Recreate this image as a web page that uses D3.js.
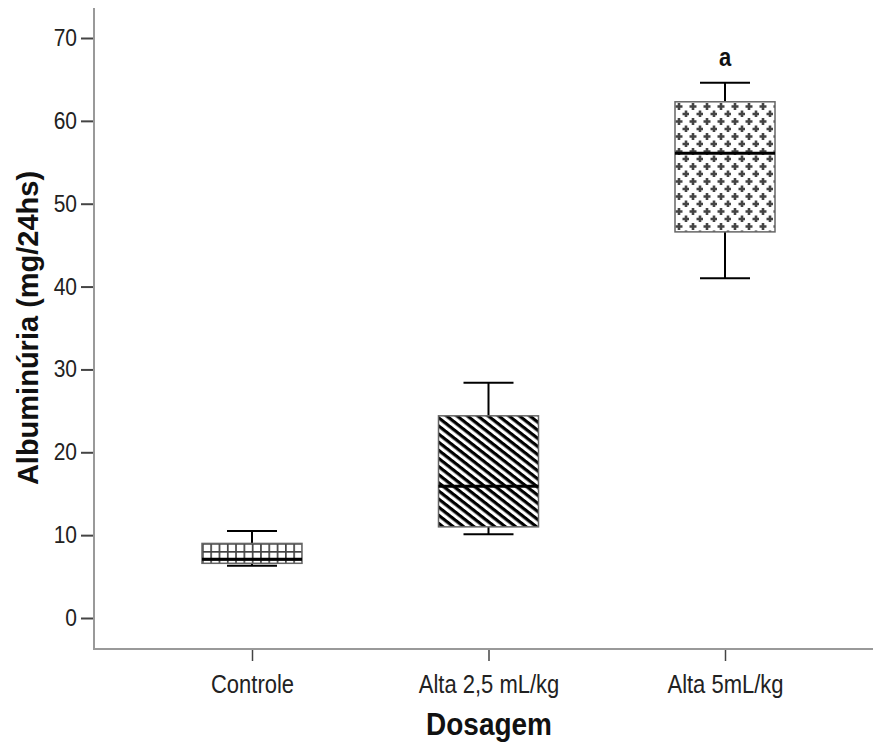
<!DOCTYPE html>
<html>
<head>
<meta charset="utf-8">
<title>Albuminúria</title>
<script src="https://d3js.org/d3.v7.min.js"></script>
<style>
  body { margin: 0; background: #fff; }
  svg { font-family: "Liberation Sans", Arial, sans-serif; }
  .tick text { fill: #222; }
</style>
</head>
<body>
<svg width="873" height="744"></svg>
<script>
const categories = ["Controle", "Alta 2,5 mL/kg", "Alta 5mL/kg"];
const minV = [6.3, 10.1, 41.0];
const q1 = [6.6, 11.0, 46.6];
const median = [7.1, 15.9, 56.1];
const q3 = [9.0, 24.4, 62.3];
const maxV = [10.5, 28.4, 64.6];
const letters = ["", "", "a"];
const patterns = ["grid", "diag", "plus"];
const yTicks = [0, 10, 20, 30, 40, 50, 60, 70];

const svg = d3.select("svg");
const x = d3.scalePoint().domain(categories).range([252, 725]);
const y = d3.scaleLinear().domain([0, 70]).range([618, 38]);
const axisX = 94, axisY = 649;
const boxW = 100, capW = 50;
const stretch = 1.15; // glyphs in the original are a bit taller than Arial

// fill patterns
const defs = svg.append("defs");
const grid = defs.append("pattern").attr("id", "grid").attr("patternUnits", "userSpaceOnUse")
  .attr("width", 8.3).attr("height", 8).attr("x", 202).attr("y", 543);
grid.append("rect").attr("width", 8.3).attr("height", 8).attr("fill", "#fff");
grid.append("line").attr("x1", 0).attr("x2", 8.3).attr("y1", 0.5).attr("y2", 0.5).attr("stroke", "#444").attr("stroke-width", 2.4);
grid.append("line").attr("x1", 0.5).attr("x2", 0.5).attr("y1", 0).attr("y2", 8).attr("stroke", "#444").attr("stroke-width", 2.4);

const diag = defs.append("pattern").attr("id", "diag").attr("patternUnits", "userSpaceOnUse")
  .attr("width", 20).attr("height", 6.4).attr("patternTransform", "rotate(38)");
diag.append("rect").attr("width", 20).attr("height", 6.4).attr("fill", "#fff");
diag.append("rect").attr("width", 20).attr("height", 3.2).attr("fill", "#000");

const plus = defs.append("pattern").attr("id", "plus").attr("patternUnits", "userSpaceOnUse")
  .attr("width", 14).attr("height", 15).attr("x", 675).attr("y", 102);
plus.append("rect").attr("width", 14).attr("height", 15).attr("fill", "#fff");
[[4, 4.5], [11, 12]].forEach(([cx, cy]) => {
  plus.append("path").attr("d", `M${cx - 3.5},${cy}H${cx + 3.5}M${cx},${cy - 3.5}V${cy + 3.5}`)
    .attr("stroke", "#444").attr("stroke-width", 2.6);
});

// axes
const gy = svg.append("g").attr("transform", `translate(${axisX},0)`)
  .call(d3.axisLeft(y).tickValues(yTicks).tickSize(13).tickPadding(4));
gy.select(".domain").remove();
gy.selectAll(".tick line").attr("stroke", "#444").attr("stroke-width", 2);
gy.selectAll(".tick text").attr("font-size", 21).attr("dy", null).attr("y", 7.5)
  .attr("transform", `scale(1,${stretch})`)
  .attr("y", 7.5 / stretch);

const gx = svg.append("g").attr("transform", `translate(0,${axisY})`)
  .call(d3.axisBottom(x).tickSize(12));
gx.select(".domain").remove();
gx.selectAll(".tick line").attr("stroke", "#444").attr("stroke-width", 1.5);
gx.selectAll(".tick text").attr("font-size", 22).attr("dy", null)
  .attr("transform", `scale(1,${stretch})`).attr("y", 44 / stretch);

svg.append("path").attr("d", `M${axisX},8V${axisY}H873`)
  .attr("fill", "none").attr("stroke", "#999").attr("stroke-width", 2);

// boxes
const g = svg.append("g");
categories.forEach((c, i) => {
  const cx = x(c);
  g.append("line").attr("x1", cx).attr("x2", cx).attr("y1", y(maxV[i])).attr("y2", y(q3[i]))
    .attr("stroke", "#000").attr("stroke-width", 2);
  g.append("line").attr("x1", cx).attr("x2", cx).attr("y1", y(q1[i])).attr("y2", y(minV[i]))
    .attr("stroke", "#000").attr("stroke-width", 2);
  [maxV[i], minV[i]].forEach(v => {
    g.append("line").attr("x1", cx - capW / 2).attr("x2", cx + capW / 2).attr("y1", y(v)).attr("y2", y(v))
      .attr("stroke", "#000").attr("stroke-width", 2);
  });
  g.append("rect").attr("x", cx - boxW / 2).attr("width", boxW)
    .attr("y", y(q3[i])).attr("height", y(q1[i]) - y(q3[i]))
    .attr("fill", `url(#${patterns[i]})`).attr("stroke", "#666").attr("stroke-width", 1.5);
  g.append("line").attr("x1", cx - boxW / 2).attr("x2", cx + boxW / 2).attr("y1", y(median[i])).attr("y2", y(median[i]))
    .attr("stroke", "#000").attr("stroke-width", 3);
  if (letters[i]) {
    g.append("text").attr("transform", `translate(${cx},${y(maxV[i]) - 17}) scale(1,${stretch})`)
      .attr("text-anchor", "middle")
      .attr("font-size", 22).attr("font-weight", "bold").attr("fill", "#111").text(letters[i]);
  }
});

// titles
svg.append("text").attr("transform", `translate(489,735) scale(1,${stretch})`).attr("text-anchor", "middle")
  .attr("font-size", 28).attr("font-weight", "bold").attr("fill", "#111").text("Dosagem");
svg.append("text").attr("transform", "translate(38,328) rotate(-90)").attr("text-anchor", "middle")
  .attr("font-size", 29).attr("font-weight", "bold").attr("fill", "#111").text("Albuminúria (mg/24hs)");
</script>
</body>
</html>
